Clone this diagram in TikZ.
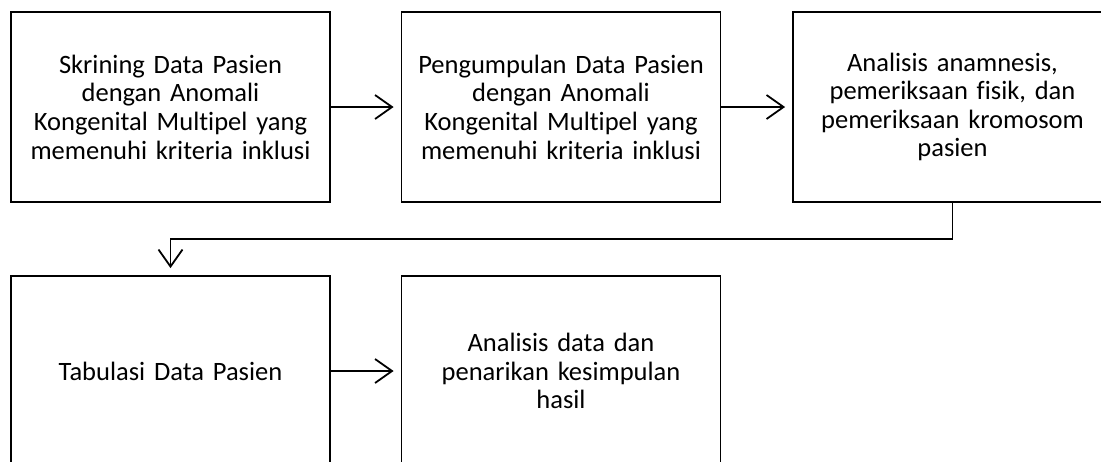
\documentclass[tikz,border=0pt]{standalone}
\usepackage{fontspec}
\setmainfont{Carlito}[RawFeature={-liga;-clig;-dlig}]
\usetikzlibrary{arrows.meta}
\tikzset{
  stepbox/.style={draw, line width=1.8pt, minimum width=319pt, minimum height=190pt, inner sep=0pt, align=center, text width=310pt, font=\fontsize{26.5pt}{28.6pt}\selectfont},
  arr/.style={line width=1.8pt, -{Straight Barb[length=17pt,width=24pt,line width=1.8pt]}, shorten >=7pt}
}
\begin{document}
\begin{tikzpicture}[x=1pt,y=1pt]
\useasboundingbox (0,0) rectangle (1101,-461);
\clip (0,0) rectangle (1101,-461);
\node[stepbox] (b1) at (170.5,-107) {Skrining Data Pasien\\dengan Anomali\\Kongenital Multipel yang\\memenuhi kriteria inklusi};
\node[stepbox] (b2) at (561,-107) {Pengumpulan Data Pasien\\dengan Anomali\\Kongenital Multipel yang\\memenuhi kriteria inklusi};
\node[stepbox] (b3) at (952.5,-107) {Analisis anamnesis,\\pemeriksaan fisik, dan\\pemeriksaan kromosom\\pasien};
\node[stepbox] (b4) at (170.5,-371) {Tabulasi Data Pasien};
\node[stepbox] (b5) at (561,-371) {Analisis data dan\\penarikan kesimpulan\\hasil};
\draw[arr] (b1.east) -- (b2.west);
\draw[arr] (b2.east) -- (b3.west);
\draw[arr] (b3.south) -- ++(0,-36) -| (b4.north);
\draw[arr] (b4.east) -- (b5.west);
\end{tikzpicture}
\end{document}
